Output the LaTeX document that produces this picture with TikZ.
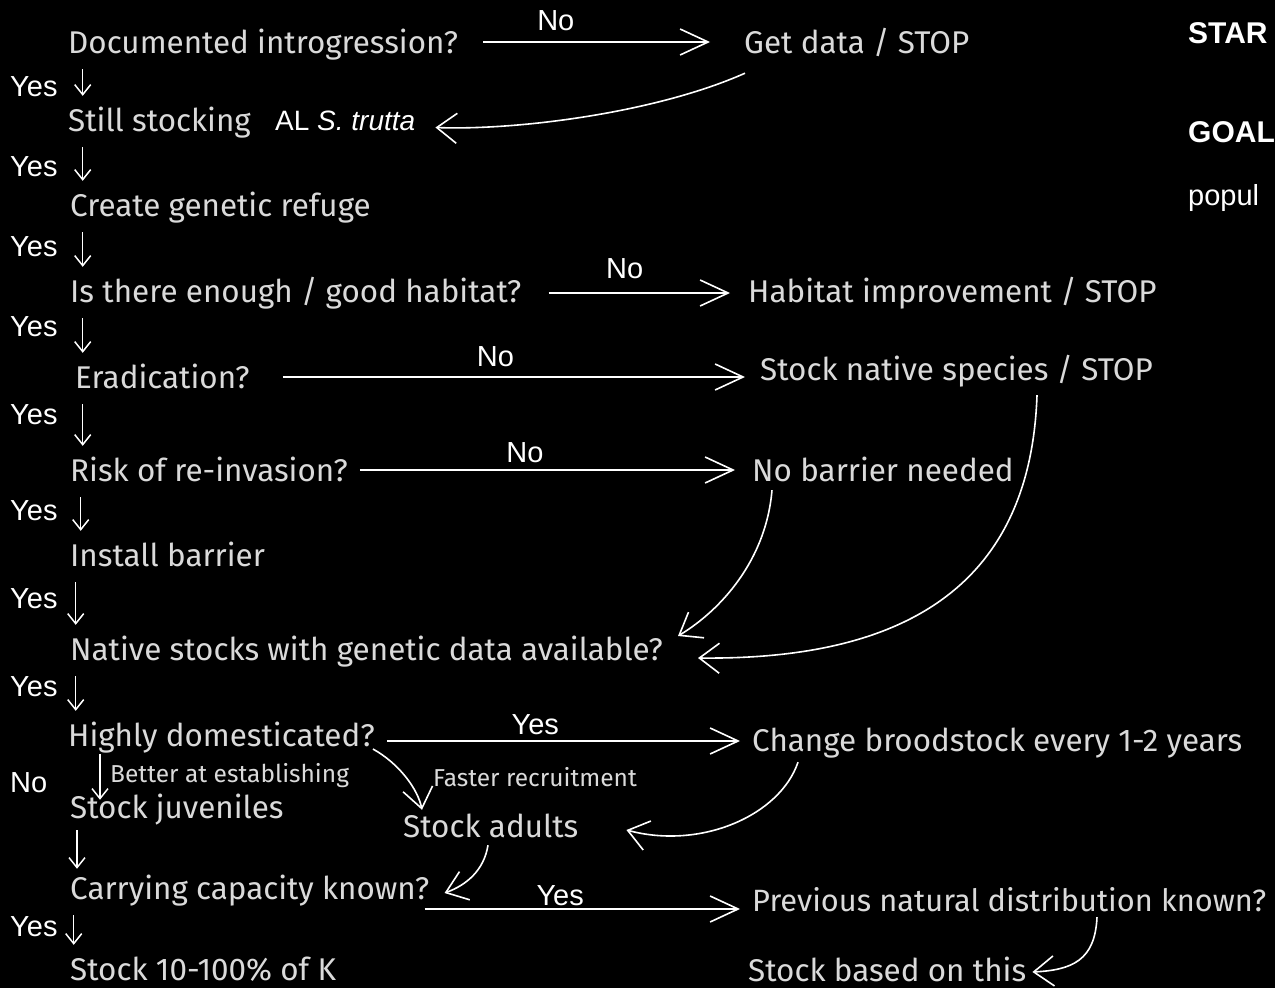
\documentclass[tikz,border=0pt]{standalone}
\usepackage{fontspec}
\setmainfont{Fira Sans}
\newfontfamily\answerfont{Liberation Sans}
\usetikzlibrary{positioning, arrows.meta, calc}
\definecolor{chalk}{RGB}{218,218,218}
\tikzset{
  item/.style={
    anchor=base west,
    inner sep=0pt,
    text height=22pt,
    text depth=0pt,
    text=chalk,
    font=\fontsize{31.4}{35}\selectfont
  },
  note/.style={
    item,
    text height=16pt,
    font=\fontsize{24.5}{28}\selectfont
  },
  answer/.style={
    anchor=base west,
    inner sep=0pt,
    text height=21pt,
    text depth=0pt,
    text=white,
    font=\answerfont\fontsize{29}{33}\selectfont
  },
  tag/.style={
    answer,
    anchor=base
  },
  flow/.style={
    draw=white,
    line width=1.6pt,
    -{Straight Barb[length=28pt, width=26pt, line width=1.6pt]}
  },
  curl/.style={
    draw=white,
    line width=1.6pt,
    -{Straight Barb[length=20pt, width=30pt, line width=1.6pt]}
  },
  down/.style={
    draw=white,
    line width=1.5pt,
    shorten <=16pt,
    shorten >=13pt,
    -{Straight Barb[length=10pt, width=16pt, line width=1.5pt]}
  }
}

\begin{document}
\begin{tikzpicture}[x=1pt, y=-1pt]
  \useasboundingbox (0,0) rectangle (1275,988);
  \fill[black] (0,0) rectangle (1275,988);

  \node[item] (doc) at (68,53) {Documented introgression?};
  \node[item] (stillstock) at (68,131) {Still stocking};
  \node[answer, font=\answerfont\fontsize{28}{32}\selectfont] (trutta) at (275,130) {AL \textit{S. trutta}};
  \node[item] (refuge) at (70,216) {Create genetic refuge};
  \node[item] (habitat) at (70,302) {Is there enough / good habitat?};
  \node[item] (eradic) at (75,388) {Eradication?};
  \node[item] (risk) at (70,481) {Risk of re-invasion?};
  \node[item] (barrier) at (70,566) {Install barrier};
  \node[item] (natdata) at (70,660) {Native stocks with genetic data available?};
  \node[item] (domestic) at (68,746) {Highly domesticated?};
  \node[item] (juveniles) at (70,818) {Stock juveniles};
  \node[item] (carry) at (70,899) {Carrying capacity known?};
  \node[item] (stockk) at (70,980) {Stock 10-100\% of K};

  \node[item] (getdata) at (744,53) {Get data / STOP};
  \node[item] (habimprove) at (748,302) {Habitat improvement / STOP};
  \node[item] (stocknative) at (760,380) {Stock native species / STOP};
  \node[item] (nobarrier) at (752,481) {No barrier needed};
  \node[item] (broodstock) at (752,751) {Change broodstock every 1-2 years};
  \node[item] (adults) at (403,837) {Stock adults};
  \node[item, font=\fontsize{30.8}{35}\selectfont] (prevdist) at (752,911) {Previous natural distribution known?};
  \node[item] (stockbased) at (748,981) {Stock based on this};
  \node[note] (establish) at (110,782) {Better at establishing};
  \node[note] (faster) at (433,786) {Faster recruitment};

  \node[answer] (yesA) at (10,96) {Yes};
  \node[answer] (yesB) at (10,176) {Yes};
  \node[answer] (yesC) at (10,256) {Yes};
  \node[answer] (yesD) at (10,336) {Yes};
  \node[answer] (yesE) at (10,424) {Yes};
  \node[answer] (yesF) at (10,520) {Yes};
  \node[answer] (yesG) at (10,608) {Yes};
  \node[answer] (yesH) at (10,696) {Yes};
  \node[answer] (noA) at (10,792) {No};
  \node[answer] (yesI) at (10,936) {Yes};

  \node[answer, font=\answerfont\bfseries\fontsize{30}{34}\selectfont] (start) at (1188,43) {STAR};
  \node[answer, font=\answerfont\bfseries\fontsize{30}{34}\selectfont] (goal) at (1188,142) {GOAL};
  \node[answer, font=\answerfont\fontsize{29}{33}\selectfont] (popul) at (1188,205) {popul};

  \draw[down] ($(doc.south -| yesA.east)+(25,0)$) -- ($(stillstock.north -| yesA.east)+(25,0)$);
  \draw[down] ($(stillstock.south -| yesB.east)+(25,0)$) -- ($(refuge.north -| yesB.east)+(25,0)$);
  \draw[down] ($(refuge.south -| yesC.east)+(25,0)$) -- ($(habitat.north -| yesC.east)+(25,0)$);
  \draw[down] ($(habitat.south -| yesD.east)+(25,0)$) -- ($(eradic.north -| yesD.east)+(25,0)$);
  \draw[down] ($(eradic.south -| yesE.east)+(25,0)$) -- ($(risk.north -| yesE.east)+(25,0)$);
  \draw[down] ($(risk.south -| yesF.east)+(23,0)$) -- ($(barrier.north -| yesF.east)+(23,0)$);
  \draw[down] ($(barrier.south -| yesG.east)+(18,0)$) -- ($(natdata.north -| yesG.east)+(18,0)$);
  \draw[down] ($(natdata.south -| yesH.east)+(18,0)$) -- ($(domestic.north -| yesH.east)+(18,0)$);
  \draw[down, shorten <=8pt, shorten >=-4pt] ($(domestic.south west)+(32,0)$) -- ($(juveniles.north west)+(30,0)$);
  \draw[down, shorten <=12pt, shorten >=8pt] ($(juveniles.south west)+(7,0)$) -- ($(carry.north west)+(7,0)$);
  \draw[down] ($(carry.south -| yesI.east)+(16,0)$) -- ($(stockk.north -| yesI.east)+(16,0)$);

  \draw[flow] ($(doc.east)+(25,0)$) -- node[tag, pos=0.32, yshift=12pt] (noB) {No} ($(doc.east -| getdata.west)+(-34,0)$);
  \draw[flow] ($(habitat.east)+(27,2)$) -- node[tag, pos=0.42, yshift=15pt] (noC) {No} ($(habitat.east -| habimprove.west)+(-18,2)$);
  \draw[flow] ($(eradic.east)+(33,0)$) -- node[tag, pos=0.46, yshift=11pt] (noD) {No} ($(eradic.east -| stocknative.west)+(-15,0)$);
  \draw[flow] ($(risk.east)+(12,0)$) -- node[tag, pos=0.44, yshift=8pt] (noE) {No} ($(risk.east -| nobarrier.west)+(-17,0)$);
  \draw[flow] ($(domestic.east)+(12,6)$) -- node[tag, pos=0.42, yshift=7pt] (yesJ) {Yes} ($(domestic.east -| broodstock.west)+(-12,6)$);
  \draw[flow] ($(carry.east)+(-5,21)$) -- node[tag, pos=0.43, yshift=4pt] (yesK) {Yes} ($(carry.east -| prevdist.west)+(-12,21)$);

  \draw[curl] ($(getdata.south west)+(1,20)$) .. controls +(-90,40) and +(80,3) .. ($(trutta.east)+(20,8)$);
  \draw[curl] ($(stocknative.south west)+(277,15)$) .. controls +(-7,205) and +(187,2) .. ($(natdata.east)+(35,9)$);
  \draw[curl] ($(nobarrier.south west)+(20,9)$) .. controls +(-6,70) and +(43,-26) .. ($(natdata.east)+(15,-13)$);
  \draw[curl] ($(domestic.east)+(-2,14)$) .. controls +(27,15) and +(-4,-20) .. ($(adults.north west)+(19,-5)$);
  \draw[curl] ($(broodstock.south west)+(46,11)$) .. controls +(-18,53) and +(75,20) .. ($(adults.east)+(48,4)$);
  \draw[curl] ($(adults.south west)+(85,8)$) .. controls +(-4,25) and +(22,-8) .. ($(carry.east)+(15,5)$);
  \draw[curl] ($(prevdist.south west)+(345,6)$) .. controls +(-2,43) and +(40,-2) .. ($(stockbased.east)+(6,2)$);
\end{tikzpicture}
\end{document}
